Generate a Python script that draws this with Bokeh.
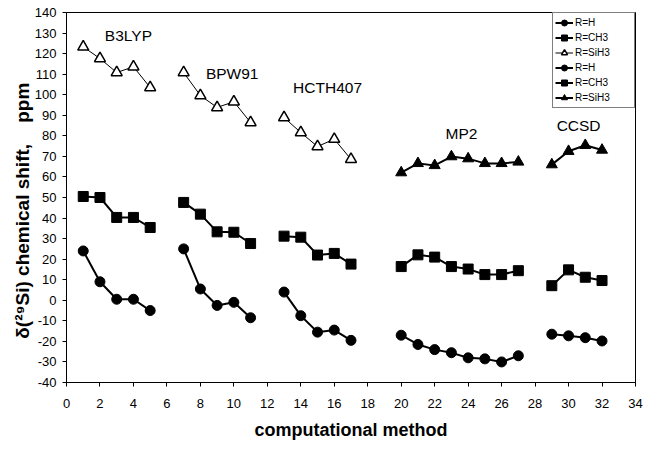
import math
from bokeh.plotting import figure
from bokeh.models import Range1d, FixedTicker, Legend, LegendItem, PrintfTickFormatter
from bokeh.embed import file_html
from bokeh.resources import INLINE
from bokeh.core.properties import value

# computational method index for each group
x_b3lyp = [1, 2, 3, 4, 5]
x_bpw91 = [7, 8, 9, 10, 11]
x_hcth = [13, 14, 15, 16, 17]
x_mp2 = [20, 21, 22, 23, 24, 25, 26, 27]
x_ccsd = [29, 30, 31, 32]

# R=H
h_b3lyp = [24, 9, 0.5, 0.5, -5]
h_bpw91 = [25, 5.5, -2.5, -1, -8.5]
h_hcth = [4, -7.5, -15.5, -14.5, -19.5]
h_mp2 = [-17, -21.5, -24, -25.5, -28, -28.5, -30, -27]
h_ccsd = [-16.5, -17.3, -18.2, -19.8]

# R=CH3
ch3_b3lyp = [50.5, 50, 40.3, 40.3, 35.4]
ch3_bpw91 = [47.6, 41.9, 33.3, 33.1, 27.6]
ch3_hcth = [31.2, 30.7, 22, 22.8, 17.6]
ch3_mp2 = [16.4, 22.1, 21, 16.4, 15.2, 12.5, 12.5, 14.4]
ch3_ccsd = [7.1, 14.8, 11.2, 9.6]

# R=SiH3
sih3_b3lyp = [123.3, 117.6, 110.8, 113.6, 103.5]
sih3_bpw91 = [110.8, 99.6, 93.8, 96.6, 86.5]
sih3_hcth = [88.9, 81.6, 74.8, 78.4, 68.6]
sih3_mp2 = [62.1, 66.6, 65.6, 69.9, 68.9, 66.6, 66.6, 67.3]
sih3_ccsd = [66, 72.5, 75.4, 73.1]

group_names = ["B3LYP", "BPW91", "HCTH407", "MP2", "CCSD"]
group_label_x = [3.7, 9.9, 15.6, 23.6, 30.6]
group_label_y = [128.7, 110.5, 103.5, 81.3, 85.1]

x_ticks = list(range(0, 35, 2))
y_ticks = list(range(-40, 141, 10))

FONT = "Liberation Sans"
NB = "\u00a0"


def join(*groups):
    out = []
    for g in groups:
        out += list(g) + [math.nan]
    return out[:-1]


p = figure(width=644, height=443, x_range=Range1d(0, 34), y_range=Range1d(-40, 140),
           output_backend="svg", toolbar_location=None,
           min_border_left=66, min_border_right=9, min_border_top=12, min_border_bottom=61)
p.xgrid.visible = False
p.ygrid.visible = False
p.outline_line_color = "black"
p.outline_line_width = 1
p.background_fill_color = "white"

for ax in (p.xaxis[0], p.yaxis[0]):
    ax.axis_line_color = "black"
    ax.axis_line_width = 1
    ax.major_tick_line_color = "black"
    ax.major_tick_in = 0
    ax.major_tick_out = 4
    ax.minor_tick_line_color = None
    ax.major_label_text_font = FONT
    ax.major_label_text_font_size = "13px"
    ax.major_label_text_color = "black"
    ax.axis_label_text_font = FONT
    ax.axis_label_text_font_style = "bold"
    ax.axis_label_text_color = "black"
    ax.formatter = PrintfTickFormatter(format="%d")

p.xaxis.ticker = FixedTicker(ticks=x_ticks)
p.yaxis.ticker = FixedTicker(ticks=y_ticks)
p.xaxis.major_label_standoff = 12
p.yaxis.major_label_standoff = 6
p.xaxis.axis_label = "computational method"
p.xaxis.axis_label_text_font_size = "18px"
p.xaxis.axis_label_standoff = 9
p.yaxis.axis_label = "δ(²⁹Si) chemical shift," + NB * 4 + "ppm" + NB * 5
p.yaxis.axis_label_text_font_size = "19px"
p.yaxis.axis_label_standoff = -1

items = []

dft_x = join(x_b3lyp, x_bpw91, x_hcth)
wf_x = join(x_mp2, x_ccsd)

series = [
    ("R=H", dft_x, join(h_b3lyp, h_bpw91, h_hcth), "circle", "black", 2),
    ("R=CH3", dft_x, join(ch3_b3lyp, ch3_bpw91, ch3_hcth), "square", "black", 2),
    ("R=SiH3", dft_x, join(sih3_b3lyp, sih3_bpw91, sih3_hcth), "triangle", "white", 1),
    ("R=H", wf_x, join(h_mp2, h_ccsd), "circle", "black", 2),
    ("R=CH3", wf_x, join(ch3_mp2, ch3_ccsd), "square", "black", 2),
    ("R=SiH3", wf_x, join(sih3_mp2, sih3_ccsd), "triangle", "black", 2),
]

for label, xs, ys, marker, fill, lw in series:
    ln = p.line(xs, ys, line_color="black", line_width=lw)
    lw_m = 1.5 if fill == "white" else 1
    sz = 11 if marker == "triangle" else 10
    sc = p.scatter(xs, ys, marker=marker, size=sz, fill_color=fill,
                   line_color="black", line_width=lw_m)
    items.append(LegendItem(label=label, renderers=[ln, sc]))

legend = Legend(items=items, location="top_right", margin=0, padding=2, spacing=0,
                glyph_height=15, label_height=15, glyph_width=18, label_standoff=2,
                label_width=57, label_text_font=FONT, label_text_font_size="10px",
                label_text_color="black", border_line_color="black", border_line_width=1,
                background_fill_alpha=1, background_fill_color="white")
p.add_layout(legend)

p.text(x=group_label_x, y=group_label_y, text=group_names, text_font=value(FONT),
       text_font_size=value("15.5px"), text_align="center", text_baseline="middle",
       text_color="black")

open("out.html", "w").write(file_html(p, INLINE))
